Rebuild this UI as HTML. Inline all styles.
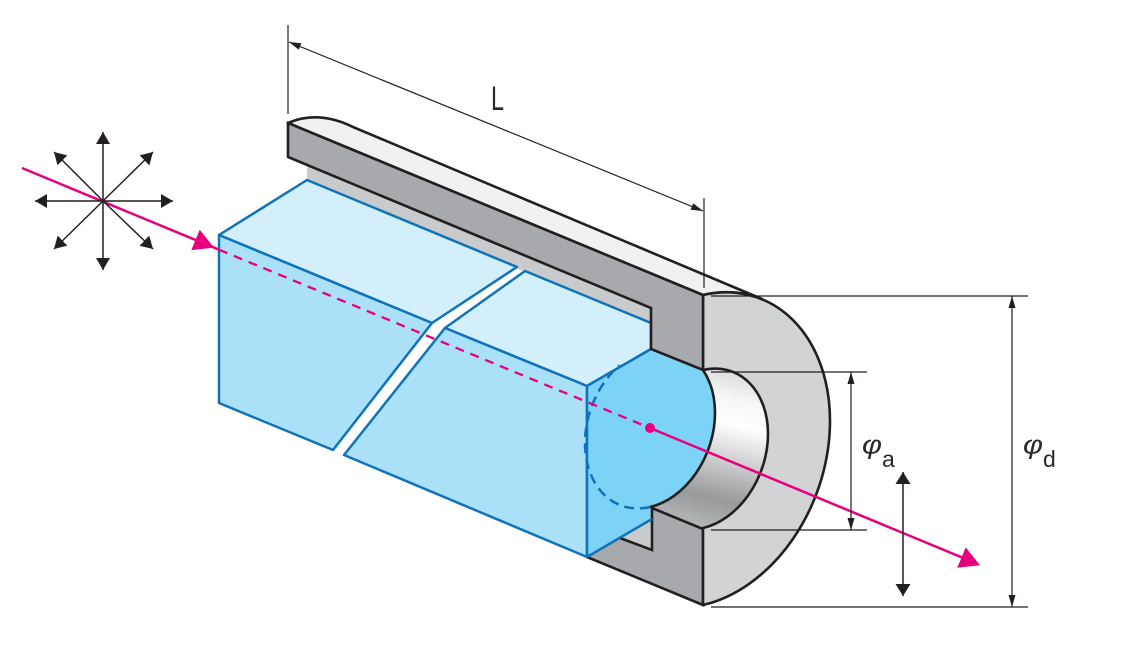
<!DOCTYPE html>
<html><head><meta charset="utf-8"><style>
html,body{margin:0;padding:0;background:#fff;}
svg{display:block;}
</style></head><body>
<svg width="1127" height="664" viewBox="0 0 1127 664" xmlns="http://www.w3.org/2000/svg">
<defs>
<marker id="a1" markerUnits="userSpaceOnUse" markerWidth="14" markerHeight="14" refX="12" refY="7" orient="auto-start-reverse"><path d="M0,0 L12,7 L0,14 Z" fill="#231f20"/></marker>
<marker id="a2" markerUnits="userSpaceOnUse" markerWidth="13" markerHeight="8" refX="12" refY="4" orient="auto-start-reverse"><path d="M0,0.5 L12,4 L0,7.5 Z" fill="#231f20"/></marker>
<marker id="a3" markerUnits="userSpaceOnUse" markerWidth="13" markerHeight="16" refX="12" refY="7.5" orient="auto-start-reverse"><path d="M0,0 L12,7.5 L0,15 Z" fill="#231f20"/></marker>
<linearGradient id="met" gradientUnits="userSpaceOnUse" x1="740" y1="365" x2="700" y2="530">
<stop offset="0" stop-color="#d4d4d6"/>
<stop offset="0.2" stop-color="#f6f6f7"/>
<stop offset="0.35" stop-color="#ffffff"/>
<stop offset="0.55" stop-color="#d2d2d4"/>
<stop offset="0.8" stop-color="#98999b"/>
<stop offset="1" stop-color="#b8b9bb"/>
</linearGradient>
</defs>

<!-- housing top outer surface -->
<path d="M288,123 Q318,110 353,127 L762,299 A121.6 161.9 20.1 0 0 703,295 Z" fill="#f1f1f2" stroke="#231f20" stroke-width="2.6" stroke-linejoin="round"/>
<!-- inner light band -->
<polygon points="307,160 651,303 651,325 307,180" fill="#c9cacc"/>

<!-- bore inner surface -->
<path d="M650,349 L703.2,370.4 L703,370 A62.1 82.7 20.5 0 1 768,434 A62.1 82.7 20.5 0 1 703,528 L652,508 Z" fill="url(#met)"/>
<!-- deep disk -->
<ellipse cx="650" cy="428" rx="62.1" ry="82.7" transform="rotate(20.5 650 428)" fill="#7dd3f5"/>

<!-- prism 1 -->
<polygon points="219,235 307,180 517,267 432,323" fill="#d3effc" stroke="#0f72ba" stroke-width="2.5" stroke-linejoin="round"/>
<polygon points="219,235 432,323 333,450 219,403" fill="#abe0f9" stroke="#0f72ba" stroke-width="2.5" stroke-linejoin="round"/>
<!-- prism 2 -->
<polygon points="445,328 525,271 651,323 651,349 587,386" fill="#d3effc" stroke="#0f72ba" stroke-width="2.5" stroke-linejoin="round"/>
<polygon points="445,328 587,386 587,557 344,455" fill="#abe0f9" stroke="#0f72ba" stroke-width="2.5" stroke-linejoin="round"/>
<!-- end face -->
<polygon points="587,386 650,349 652,519 587,557" fill="#7dd3f5"/>

<!-- bottom cut -->
<polygon points="587,557 703,605 703,529 652,508 652,550 620,538" fill="#a7a9ac"/>
<polygon points="620,538 652,550 652,519" fill="#c9cacc"/>
<polyline points="587,557 703,605 703,529 652,508 652,550 620,538" fill="none" stroke="#231f20" stroke-width="2.6" stroke-linejoin="miter"/>

<!-- end face edges -->
<line x1="587" y1="386" x2="651" y2="349" stroke="#0f72ba" stroke-width="2.5"/>
<line x1="587" y1="557" x2="652" y2="519" stroke="#0f72ba" stroke-width="2.5"/>
<line x1="587" y1="386" x2="587" y2="557" stroke="#0f72ba" stroke-width="2.5"/>

<!-- dashed hidden arc & solid deep arc -->
<path d="M650,507 A62.1 82.7 20.5 0 1 619.5,365.2" fill="none" stroke="#0f72ba" stroke-width="2.5" stroke-dasharray="10 6"/>
<path d="M703.2,370.4 A62.1 82.7 20.5 0 1 715,413 A62.1 82.7 20.5 0 1 650,507" fill="none" stroke="#231f20" stroke-width="2.6"/>

<!-- annulus end face -->
<path d="M703,295 A121.6 161.9 20.1 0 1 830,421 A121.6 161.9 20.1 0 1 703,605 L703,528 A62.1 82.7 20.5 0 0 768,434 A62.1 82.7 20.5 0 0 703,370 Z" fill="#d1d3d4" stroke="#231f20" stroke-width="2.6" stroke-linejoin="round"/>

<!-- top cut bar -->
<path d="M288,123 L703,295 L703,370 L651,349 L651,308 L288,157 Z" fill="#a7a9ac" stroke="#231f20" stroke-width="2.6" stroke-linejoin="miter"/>

<!-- magenta ray -->
<line x1="22" y1="168" x2="219" y2="249.7" stroke="#e6007e" stroke-width="2.5"/>
<line x1="219" y1="249.7" x2="650" y2="428" stroke="#e6007e" stroke-width="2.3" stroke-dasharray="9 7"/>
<line x1="650" y1="428" x2="964" y2="558.3" stroke="#e6007e" stroke-width="2.5"/>
<circle cx="650" cy="428" r="5" fill="#e6007e"/>
<polygon points="214,247.6 191.3,250.1 199.7,229.7" fill="#e6007e"/>
<polygon points="980,565.3 957.3,567.8 965.7,547.4" fill="#e6007e"/>

<!-- polarization star -->
<g stroke="#231f20" stroke-width="1.5" fill="none">
<line x1="103" y1="201" x2="103" y2="132" marker-end="url(#a1)"/>
<line x1="103" y1="201" x2="103" y2="270" marker-end="url(#a1)"/>
<line x1="103" y1="201" x2="35" y2="201" marker-end="url(#a1)"/>
<line x1="103" y1="201" x2="173" y2="201" marker-end="url(#a1)"/>
<line x1="103" y1="201" x2="54" y2="152" marker-end="url(#a1)"/>
<line x1="103" y1="201" x2="153" y2="152" marker-end="url(#a1)"/>
<line x1="103" y1="201" x2="54" y2="249" marker-end="url(#a1)"/>
<line x1="103" y1="201" x2="153" y2="249" marker-end="url(#a1)"/>
</g>

<!-- dimensions -->
<g stroke="#231f20" stroke-width="1.2" fill="none">
<line x1="288" y1="25" x2="288" y2="114"/>
<line x1="704" y1="198" x2="704" y2="288"/>
<line x1="289" y1="42" x2="703" y2="211" marker-start="url(#a2)" marker-end="url(#a2)"/>
<line x1="711" y1="296" x2="1028" y2="296"/>
<line x1="711" y1="607" x2="1028" y2="607"/>
<line x1="711" y1="372" x2="867" y2="372"/>
<line x1="711" y1="530" x2="867" y2="530"/>
<line x1="851" y1="372" x2="851" y2="530" marker-start="url(#a2)" marker-end="url(#a2)"/>
<line x1="1012" y1="296" x2="1012" y2="607" marker-start="url(#a2)" marker-end="url(#a2)"/>
</g>
<line x1="903" y1="472" x2="903" y2="596" stroke="#231f20" stroke-width="1.5" marker-start="url(#a3)" marker-end="url(#a3)"/>

<!-- labels -->
<g font-family="'Liberation Sans', sans-serif" fill="#2a2a2a">
<text x="491" y="110" font-size="34" textLength="13" lengthAdjust="spacingAndGlyphs">L</text>
<text x="862" y="453.5" font-size="26" font-style="italic" textLength="20" lengthAdjust="spacingAndGlyphs">φ</text>
<text x="882" y="467" font-size="23">a</text>
<text x="1023" y="453.5" font-size="26" font-style="italic" textLength="20" lengthAdjust="spacingAndGlyphs">φ</text>
<text x="1043" y="467" font-size="23">d</text>
</g>
</svg>
</body></html>
